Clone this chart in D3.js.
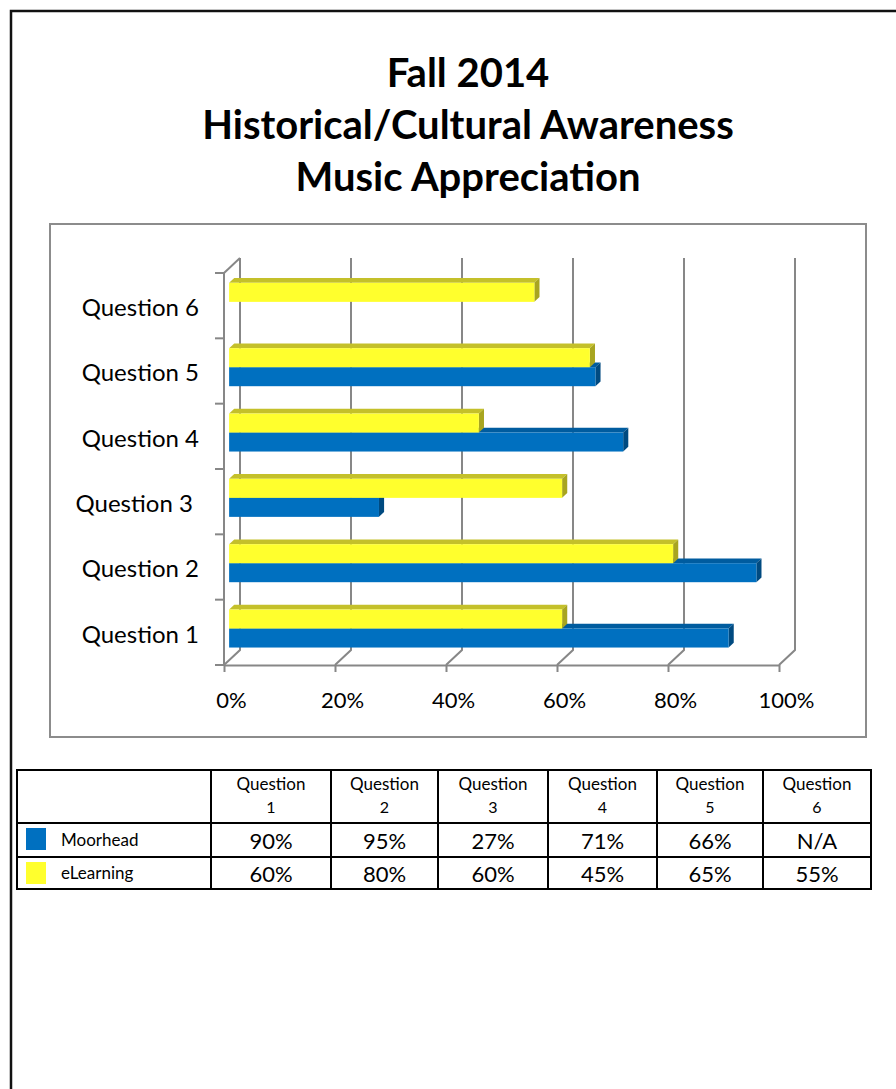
<!DOCTYPE html>
<html>
<head>
<meta charset="utf-8">
<script src="https://cdn.jsdelivr.net/npm/d3@7"></script>
<style>
  body { margin: 0; background: #fff; }
  text { font-family: Lato, "Liberation Sans", sans-serif; }
</style>
</head>
<body>
<svg id="page" width="896" height="1089"></svg>
<script>
// data
const titleLines = ['Fall 2014', 'Historical/Cultural Awareness', 'Music Appreciation'];
const categories = ['Question 1', 'Question 2', 'Question 3 ', 'Question 4', 'Question 5', 'Question 6'];
const seriesNames = ['Moorhead', 'eLearning'];
const moorhead = [0.90, 0.95, 0.27, 0.71, 0.66, null];
const elearning = [0.60, 0.80, 0.60, 0.45, 0.65, 0.55];
const xTicks = [0, 0.2, 0.4, 0.6, 0.8, 1];

const colors = {
  Moorhead: { front: '#0070c0', top: '#005c9f', side: '#004a80' },
  eLearning: { front: '#ffff2d', top: '#c4c02a', side: '#a8a520' },
};
const gridColor = '#878787';

const svg = d3.select('#page');

// page border (left and top)
svg.append('path')
  .attr('d', 'M11,1089V11H896')
  .attr('fill', 'none')
  .attr('stroke', '#111')
  .attr('stroke-width', 2.5);

// title
svg.append('g')
  .selectAll('text')
  .data(titleLines)
  .enter()
  .append('text')
  .attr('x', 468)
  .attr('y', (d, i) => 87 + i * 52)
  .attr('text-anchor', 'middle')
  .attr('font-size', 40)
  .attr('font-weight', 'bold')
  .text(d => d);

// chart area frame
svg.append('rect')
  .attr('x', 50)
  .attr('y', 224)
  .attr('width', 816)
  .attr('height', 513)
  .attr('fill', '#fff')
  .attr('stroke', '#8c8c8c')
  .attr('stroke-width', 2);

// scales on the front plane
const xScale = d3.scaleLinear().domain([0, 1]).range([224, 779]);
const yScale = d3.scaleBand().domain(categories).range([665, 273]);
const depth = { dx: 16, dy: -15 };

const plot = svg.append('g');

// back wall gridlines + floor diagonals
const grid = plot.append('g')
  .attr('stroke', gridColor)
  .attr('stroke-width', 2)
  .attr('fill', 'none');
grid.selectAll('path')
  .data(xTicks)
  .enter()
  .append('path')
  .attr('d', d => {
    const x = xScale(d);
    const y0 = yScale.range()[0];
    const y1 = yScale.range()[1];
    return `M${x},${y0}L${x + depth.dx},${y0 + depth.dy}V${y1 + depth.dy}`;
  });
// left wall top edge
grid.append('path')
  .attr('d', () => {
    const x = xScale(0);
    const y1 = yScale.range()[1];
    return `M${x},${y1}L${x + depth.dx},${y1 + depth.dy}`;
  });

// bottom axis (front floor edge)
const xAxis = d3.axisBottom(xScale)
  .tickValues(xTicks)
  .tickFormat(d3.format('.0%'))
  .tickSizeInner(7)
  .tickSizeOuter(0)
  .tickPadding(20);
const gx = plot.append('g')
  .attr('transform', `translate(0,${yScale.range()[0]})`)
  .call(xAxis);
gx.select('.domain').attr('stroke', gridColor).attr('stroke-width', 2);
gx.selectAll('.tick line').attr('stroke', gridColor).attr('stroke-width', 2);
gx.selectAll('.tick text')
  .attr('fill', '#000')
  .attr('font-size', 22)
  .attr('font-family', 'Lato')
  .attr('dx', 7);

// left axis: line, boundary ticks, labels
const gy = plot.append('g');
gy.append('line')
  .attr('x1', xScale(0)).attr('x2', xScale(0))
  .attr('y1', yScale.range()[0]).attr('y2', yScale.range()[1])
  .attr('stroke', gridColor).attr('stroke-width', 2);
const bounds = categories.map(c => yScale(c) + yScale.bandwidth()).concat([yScale.range()[1]]);
gy.selectAll('line.tk')
  .data(bounds)
  .enter()
  .append('line')
  .attr('class', 'tk')
  .attr('x1', xScale(0) - 9).attr('x2', xScale(0))
  .attr('y1', d => d).attr('y2', d => d)
  .attr('stroke', gridColor).attr('stroke-width', 2);
gy.selectAll('text')
  .data(categories)
  .enter()
  .append('text')
  .attr('x', 199)
  .attr('y', d => yScale(d) + yScale.bandwidth() / 2 + 2)
  .attr('dy', '0.35em')
  .attr('text-anchor', 'end')
  .attr('font-size', 24)
  .style('white-space', 'pre')
  .text(d => d);

// bars
const barH = 19;
const barFront = { dx: depth.dx * 0.32, dy: depth.dy * 0.32 };
const barDepth = { dx: depth.dx * 0.32, dy: depth.dy * 0.32 };

function drawBar(g, x0, x1, y, c) {
  const dx = barDepth.dx, dy = barDepth.dy;
  g.append('path')
    .attr('d', `M${x0},${y}L${x0 + dx},${y + dy}H${x1 + dx}L${x1},${y}Z`)
    .attr('fill', c.top);
  g.append('path')
    .attr('d', `M${x1},${y}L${x1 + dx},${y + dy}V${y + dy + barH}L${x1},${y + barH}Z`)
    .attr('fill', c.side);
  g.append('rect')
    .attr('x', x0).attr('y', y)
    .attr('width', x1 - x0).attr('height', barH)
    .attr('fill', c.front);
}

const bars = plot.append('g');
categories.forEach((cat, i) => {
  const mid = yScale(cat) + yScale.bandwidth() / 2 + barFront.dy + 1;
  const x0 = xScale(0) + barFront.dx;
  // Moorhead sits lower, eLearning above it
  if (moorhead[i] !== null) {
    drawBar(bars, x0, xScale(moorhead[i]) + barFront.dx, mid, colors.Moorhead);
  }
  if (elearning[i] !== null) {
    drawBar(bars, x0, xScale(elearning[i]) + barFront.dx, mid - barH, colors.eLearning);
  }
});

// data table under the chart
const colEdges = [17, 211, 331, 438, 548, 657, 763, 871];
const rowEdges = [770, 823, 857, 889];
const tableVals = [moorhead, elearning];
const pct = d => (d === null ? 'N/A' : d3.format('.0%')(d));

const table = svg.append('g');
table.selectAll('line.v')
  .data(colEdges)
  .enter()
  .append('line')
  .attr('x1', d => d).attr('x2', d => d)
  .attr('y1', rowEdges[0]).attr('y2', rowEdges[3])
  .attr('stroke', '#000').attr('stroke-width', 2);
table.selectAll('line.h')
  .data(rowEdges)
  .enter()
  .append('line')
  .attr('x1', colEdges[0] - 1).attr('x2', colEdges[7] + 1)
  .attr('y1', d => d).attr('y2', d => d)
  .attr('stroke', '#000').attr('stroke-width', 2);

// header cells: "Question" / number
categories.forEach((cat, i) => {
  const cx = (colEdges[i + 1] + colEdges[i + 2]) / 2;
  const parts = cat.trim().split(' ');
  table.append('text')
    .attr('x', cx).attr('y', 790)
    .attr('text-anchor', 'middle')
    .attr('font-size', 17)
    .text(parts[0]);
  table.append('text')
    .attr('x', cx).attr('y', 813)
    .attr('text-anchor', 'middle')
    .attr('font-size', 16)
    .text(parts[1]);
});

// series rows
seriesNames.forEach((name, r) => {
  const yTop = rowEdges[r + 1];
  const yBot = rowEdges[r + 2];
  table.append('rect')
    .attr('x', 26).attr('y', yTop + 5)
    .attr('width', 20).attr('height', 22)
    .attr('fill', colors[name].front);
  table.append('text')
    .attr('x', 61).attr('y', (yTop + yBot) / 2)
    .attr('dy', '0.35em')
    .attr('font-size', 17)
    .text(name);
  tableVals[r].forEach((v, i) => {
    table.append('text')
      .attr('x', (colEdges[i + 1] + colEdges[i + 2]) / 2)
      .attr('y', (yTop + yBot) / 2 + 1)
      .attr('dy', '0.35em')
      .attr('text-anchor', 'middle')
      .attr('font-size', 22)
      .text(pct(v));
  });
});
</script>
</body>
</html>
